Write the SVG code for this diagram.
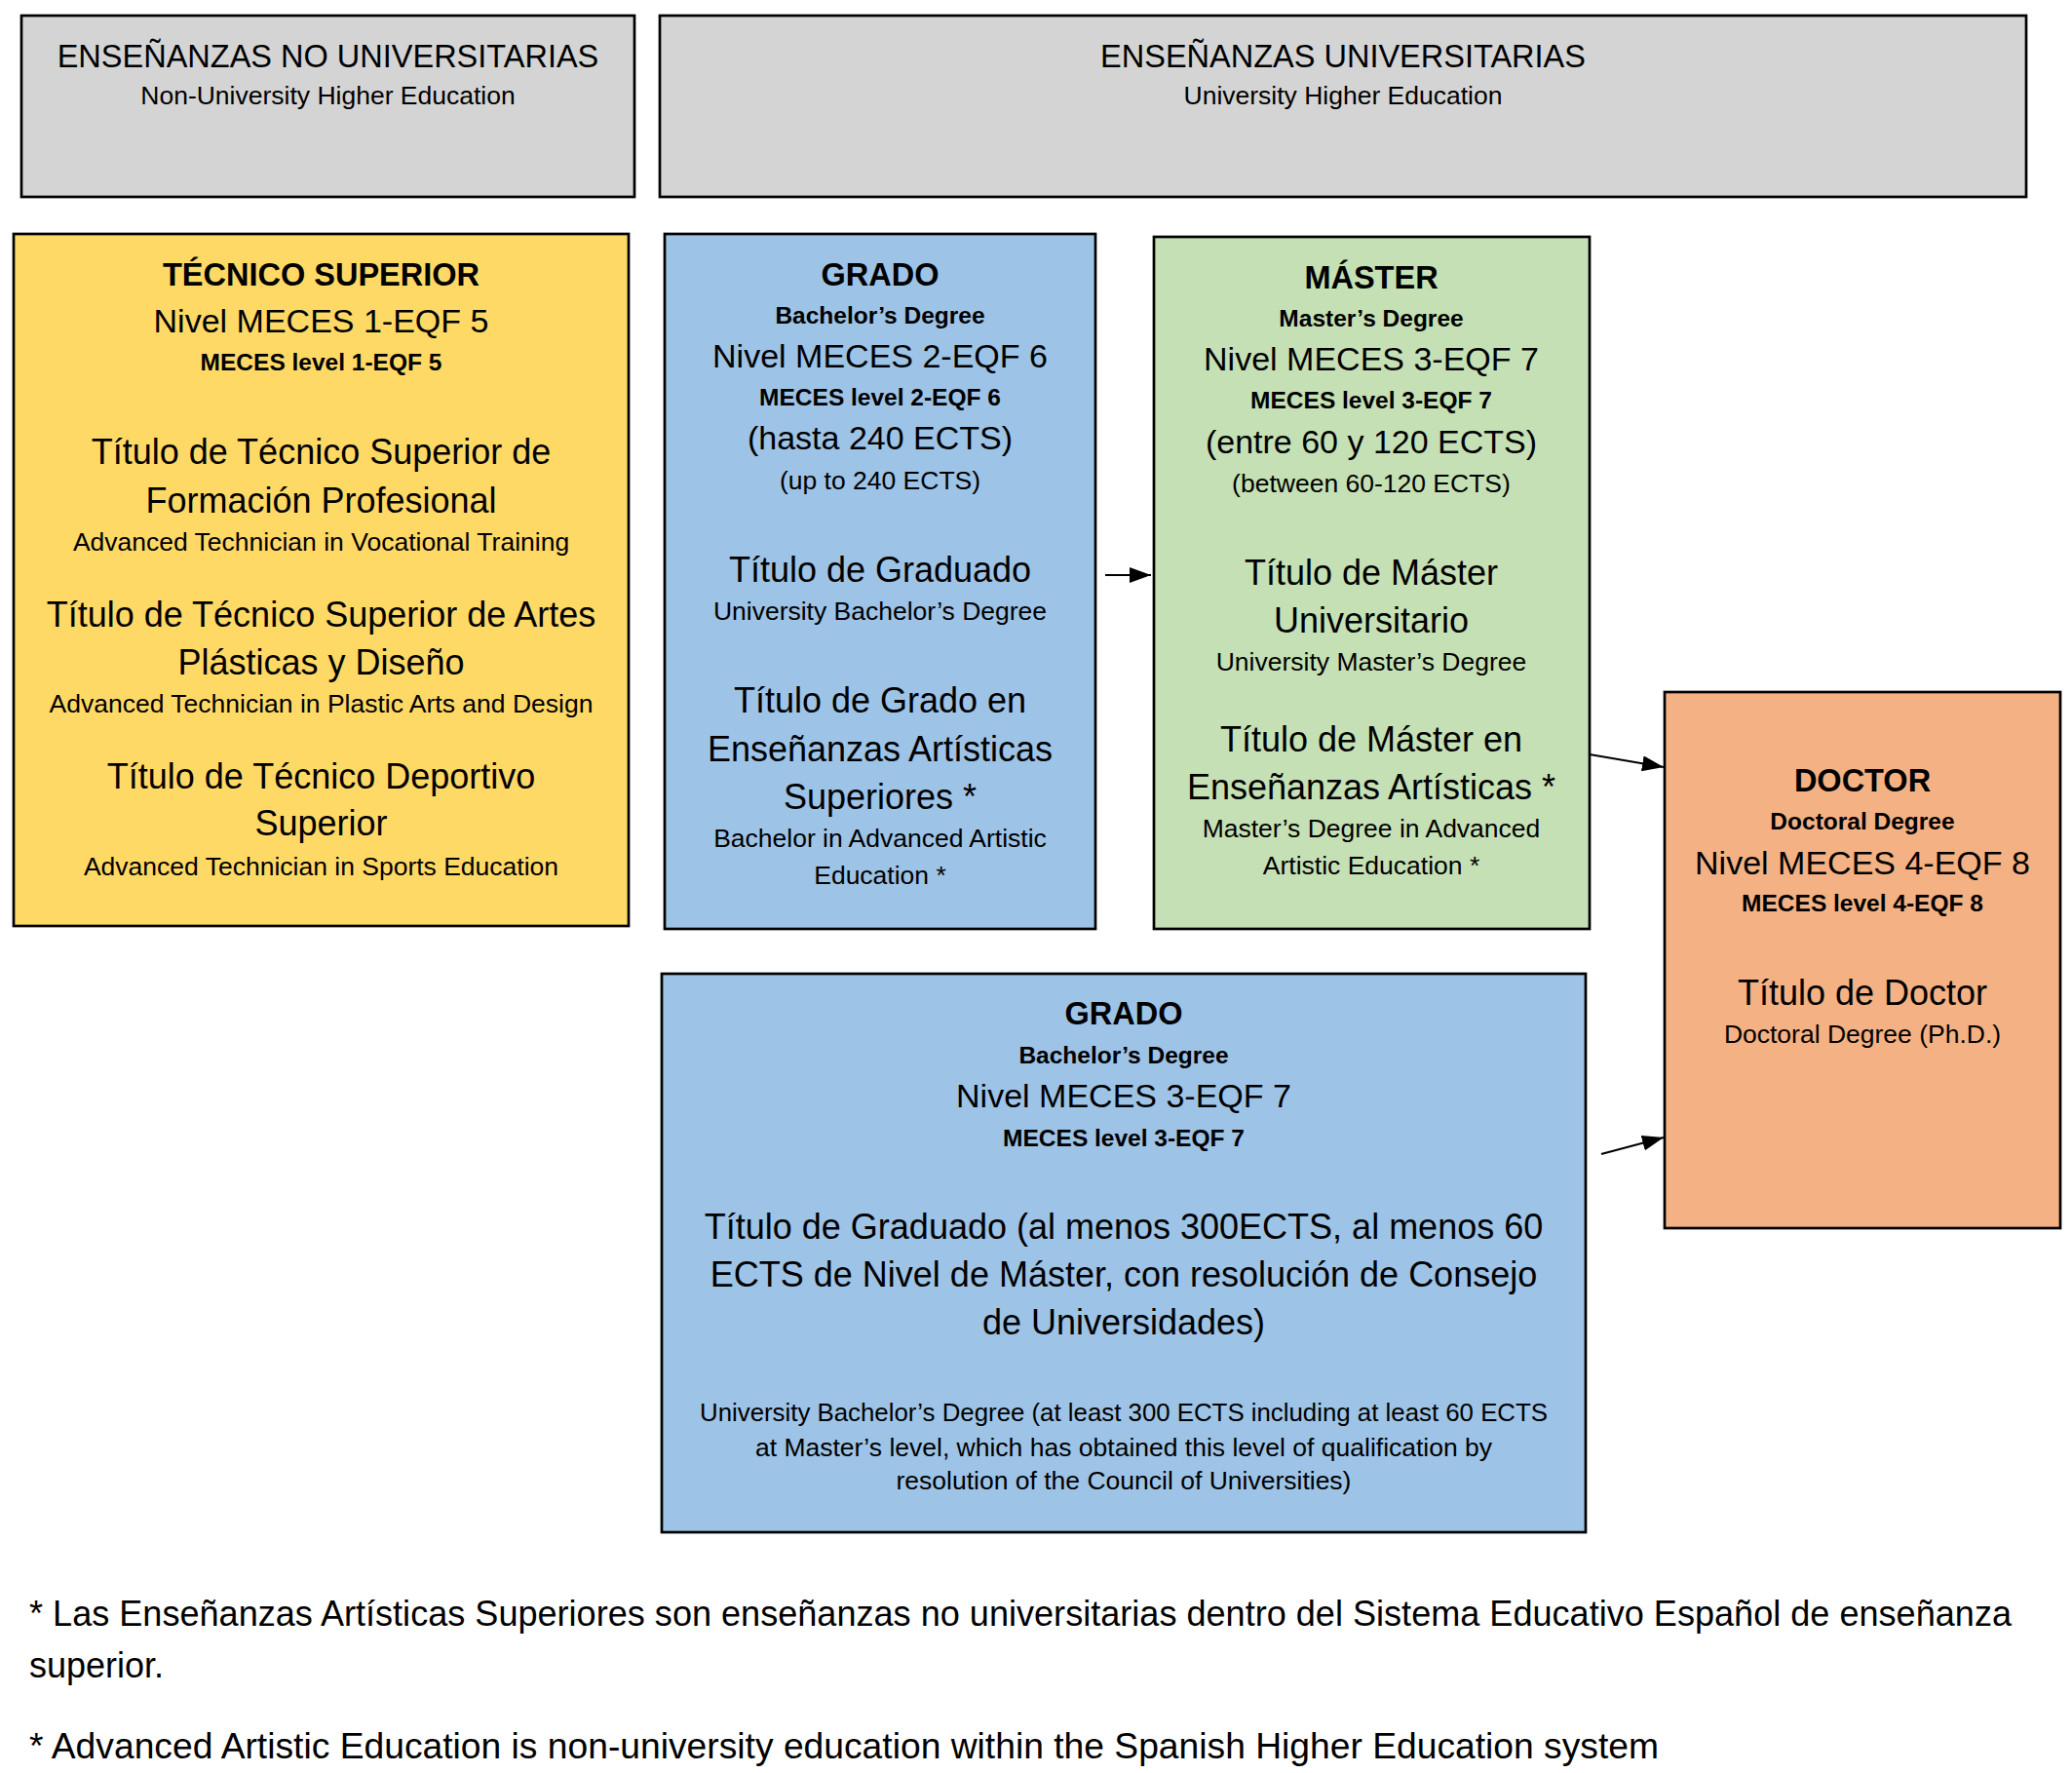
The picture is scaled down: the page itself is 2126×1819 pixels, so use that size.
<svg xmlns="http://www.w3.org/2000/svg" width="2126" height="1819" viewBox="0 0 2126 1819">
<style>
text{font-family:"Liberation Sans",Arial,sans-serif;fill:#000;text-anchor:middle}
.box{stroke:#000;stroke-width:2.7}
.hd{fill:#d4d4d4}.ye{fill:#ffd966}.bl{fill:#9dc3e6}.gr{fill:#c5e0b4}.or{fill:#f4b183}
.h1{font-size:32.5px}
.b1{font-size:32.5px;font-weight:bold}
.b2{font-size:24.5px;font-weight:bold}
.m{font-size:34px}
.l{font-size:36px}
.s{font-size:26.5px}
.fn{font-size:36px;text-anchor:start}
.con{stroke:#000;stroke-width:2;fill:none}
</style>
<defs>
<marker id="ah" markerUnits="userSpaceOnUse" markerWidth="22" markerHeight="16" refX="22" refY="8" orient="auto">
<path d="M0,0 L22,8 L0,16 z" fill="#000"/>
</marker>
</defs>
<rect width="2126" height="1819" fill="#fff"/>

<g id="hdr-no-univ">
<rect class="box hd" x="22" y="16" width="629" height="186"/>
<text class="h1" x="336.5" y="69">ENSEÑANZAS NO UNIVERSITARIAS</text>
<text class="s" x="336.5" y="107">Non-University Higher Education</text>
</g>

<g id="hdr-univ">
<rect class="box hd" x="677" y="16" width="1402" height="186"/>
<text class="h1" x="1378" y="69">ENSEÑANZAS UNIVERSITARIAS</text>
<text class="s" x="1378" y="107">University Higher Education</text>
</g>

<g id="tecnico">
<rect class="box ye" x="14" y="240" width="631" height="710"/>
<text class="b1" x="329.5" y="293">TÉCNICO SUPERIOR</text>
<text class="m" x="329.5" y="341">Nivel MECES 1-EQF 5</text>
<text class="b2" x="329.5" y="380">MECES level 1-EQF 5</text>
<text class="l" x="329.5" y="476">Título de Técnico Superior de</text>
<text class="l" x="329.5" y="526">Formación Profesional</text>
<text class="s" x="329.5" y="565">Advanced Technician in Vocational Training</text>
<text class="l" x="329.5" y="643">Título de Técnico Superior de Artes</text>
<text class="l" x="329.5" y="692">Plásticas y Diseño</text>
<text class="s" x="329.5" y="731">Advanced Technician in Plastic Arts and Design</text>
<text class="l" x="329.5" y="809">Título de Técnico Deportivo</text>
<text class="l" x="329.5" y="857">Superior</text>
<text class="s" x="329.5" y="898">Advanced Technician in Sports Education</text>
</g>

<g id="grado">
<rect class="box bl" x="682" y="240" width="442" height="713"/>
<text class="b1" x="903" y="293">GRADO</text>
<text class="b2" x="903" y="332">Bachelor’s Degree</text>
<text class="m" x="903" y="377">Nivel MECES 2-EQF 6</text>
<text class="b2" x="903" y="416">MECES level 2-EQF 6</text>
<text class="m" x="903" y="461">(hasta 240 ECTS)</text>
<text class="s" x="903" y="502">(up to 240 ECTS)</text>
<text class="l" x="903" y="597">Título de Graduado</text>
<text class="s" x="903" y="636">University Bachelor’s Degree</text>
<text class="l" x="903" y="731">Título de Grado en</text>
<text class="l" x="903" y="781">Enseñanzas Artísticas</text>
<text class="l" x="903" y="830">Superiores *</text>
<text class="s" x="903" y="869">Bachelor in Advanced Artistic</text>
<text class="s" x="903" y="907">Education *</text>
</g>

<g id="master">
<rect class="box gr" x="1184" y="243" width="447" height="710"/>
<text class="b1" x="1407" y="296">MÁSTER</text>
<text class="b2" x="1407" y="335">Master’s Degree</text>
<text class="m" x="1407" y="380">Nivel MECES 3-EQF 7</text>
<text class="b2" x="1407" y="419">MECES level 3-EQF 7</text>
<text class="m" x="1407" y="465">(entre 60 y 120 ECTS)</text>
<text class="s" x="1407" y="505">(between 60-120 ECTS)</text>
<text class="l" x="1407" y="600">Título de Máster</text>
<text class="l" x="1407" y="649">Universitario</text>
<text class="s" x="1407" y="688">University Master’s Degree</text>
<text class="l" x="1407" y="771">Título de Máster en</text>
<text class="l" x="1407" y="820">Enseñanzas Artísticas *</text>
<text class="s" x="1407" y="859">Master’s Degree in Advanced</text>
<text class="s" x="1407" y="897">Artistic Education *</text>
</g>

<g id="doctor">
<rect class="box or" x="1708" y="710" width="406" height="550"/>
<text class="b1" x="1911" y="812">DOCTOR</text>
<text class="b2" x="1911" y="851">Doctoral Degree</text>
<text class="m" x="1911" y="897">Nivel MECES 4-EQF 8</text>
<text class="b2" x="1911" y="935">MECES level 4-EQF 8</text>
<text class="l" x="1911" y="1031">Título de Doctor</text>
<text class="s" x="1911" y="1070">Doctoral Degree (Ph.D.)</text>
</g>

<g id="grado-meces3">
<rect class="box bl" x="679" y="999" width="948" height="573"/>
<text class="b1" x="1153" y="1051">GRADO</text>
<text class="b2" x="1153" y="1091">Bachelor’s Degree</text>
<text class="m" x="1153" y="1136">Nivel MECES 3-EQF 7</text>
<text class="b2" x="1153" y="1176">MECES level 3-EQF 7</text>
<text class="l" x="1153" y="1271">Título de Graduado (al menos 300ECTS, al menos 60</text>
<text class="l" x="1153" y="1320">ECTS de Nivel de Máster, con resolución de Consejo</text>
<text class="l" x="1153" y="1369">de Universidades)</text>
<text class="s" x="1153" y="1458" textLength="870" lengthAdjust="spacingAndGlyphs">University Bachelor’s Degree (at least 300 ECTS including at least 60 ECTS</text>
<text class="s" x="1153" y="1494">at Master’s level, which has obtained this level of qualification by</text>
<text class="s" x="1153" y="1528">resolution of the Council of Universities)</text>
</g>

<g id="connectors">
<line class="con" x1="1134" y1="590" x2="1181" y2="590" marker-end="url(#ah)"/>
<line class="con" x1="1631" y1="774" x2="1707" y2="787" marker-end="url(#ah)"/>
<line class="con" x1="1643" y1="1184" x2="1707" y2="1167" marker-end="url(#ah)"/>
</g>

<g id="footnotes">
<text class="fn" x="30" y="1668" textLength="2034" lengthAdjust="spacingAndGlyphs">* Las Enseñanzas Artísticas Superiores son enseñanzas no universitarias dentro del Sistema Educativo Español de enseñanza</text>
<text class="fn" x="30" y="1721">superior.</text>
<text class="fn" x="30" y="1804" textLength="1672" lengthAdjust="spacingAndGlyphs">* Advanced Artistic Education is non-university education within the Spanish Higher Education system</text>
</g>
</svg>
